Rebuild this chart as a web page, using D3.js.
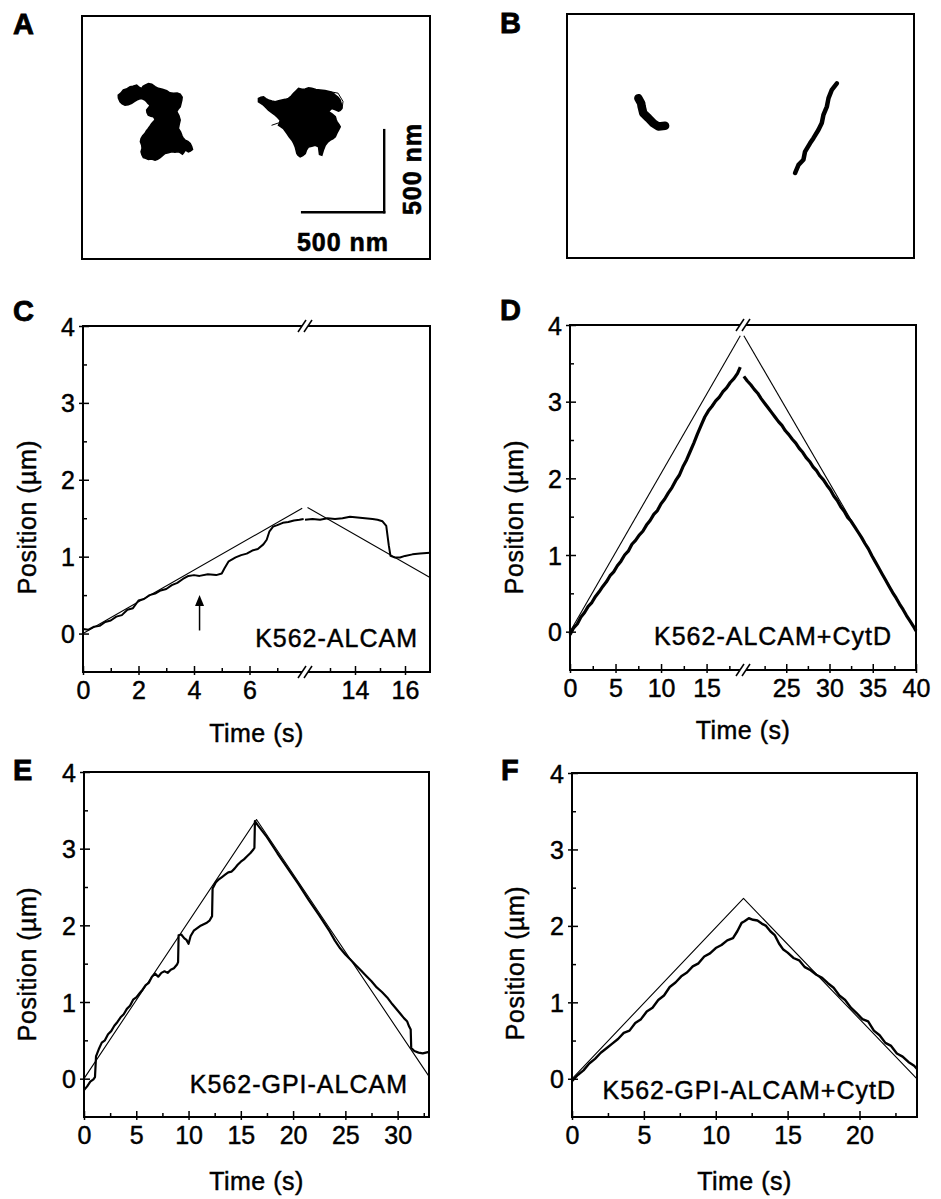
<!DOCTYPE html>
<html>
<head>
<meta charset="utf-8">
<script src="https://cdn.jsdelivr.net/npm/d3@7"></script>
<style>
body { margin: 0; background: #fff; }
svg text { font-family: "Liberation Sans", Arial, Helvetica, sans-serif; fill: #000; stroke: #000; stroke-width: 0.45px; }
</style>
</head>
<body>
<svg id="fig" width="941" height="1199"></svg>
<script>

// ---- panel A / B : bead trajectories, in nm (y grows downward) ----
const blobA1 = [[221,482],[236,470],[252,451],[270,445],[293,431],[310,428],[333,421],[350,436],[364,441],[372,428],[384,421],[405,412],[425,415],[445,430],[465,441],[490,446],[516,455],[535,468],[557,471],[580,470],[598,476],[610,494],[608,512],[603,533],[598,553],[585,568],[577,583],[590,606],[598,634],[592,660],[587,685],[600,705],[608,726],[615,742],[628,756],[645,764],[659,776],[668,795],[673,813],[660,822],[648,827],[636,820],[628,817],[620,832],[612,841],[598,832],[587,827],[566,830],[547,827],[526,833],[506,837],[490,850],[476,862],[460,872],[445,878],[424,871],[404,874],[388,866],[374,862],[365,845],[360,827],[366,806],[364,787],[356,766],[360,746],[370,730],[384,715],[392,700],[404,685],[416,668],[425,654],[437,642],[445,634],[441,622],[435,614],[420,610],[404,604],[396,588],[394,573],[406,558],[415,543],[402,532],[394,522],[380,510],[364,502],[348,505],[333,512],[318,522],[303,532],[282,540],[262,543],[245,535],[232,522],[222,500]];
const blobA2 = [[1075,502],[1090,495],[1106,492],[1120,503],[1136,512],[1157,518],[1177,522],[1198,516],[1218,512],[1238,508],[1258,502],[1275,488],[1289,471],[1305,455],[1319,441],[1340,447],[1360,445],[1380,438],[1400,441],[1425,448],[1451,451],[1480,454],[1512,461],[1530,470],[1543,482],[1560,496],[1573,512],[1580,538],[1583,563],[1573,575],[1563,579],[1540,570],[1522,563],[1510,574],[1502,583],[1525,598],[1543,614],[1548,630],[1553,644],[1565,660],[1573,675],[1565,690],[1557,705],[1550,720],[1543,736],[1528,748],[1512,756],[1495,770],[1482,787],[1470,818],[1461,848],[1447,843],[1444,820],[1441,797],[1421,787],[1400,793],[1380,797],[1368,815],[1360,837],[1345,850],[1329,858],[1316,848],[1309,837],[1304,817],[1299,797],[1290,776],[1279,756],[1262,735],[1248,715],[1238,700],[1227,685],[1210,674],[1197,665],[1204,650],[1207,634],[1192,618],[1177,604],[1156,588],[1136,573],[1120,557],[1106,543],[1090,532],[1075,522]];
const strandA2 = [[1218,644],[1157,665]];
const loopA2 = [[1512,461],[1560,470],[1590,520],[1585,560]];
const scaleBarX = [[1341,1195],[1841,1195]];
const scaleBarY = [[1841,1195],[1841,695]];
const trackB1 = [[435,514],[452,545],[455,565],[465,606],[496,636],[526,667],[557,687],[598,683]];
const trackB2 = [[1390,971],[1411,921],[1441,890],[1451,840],[1482,788],[1502,758],[1533,707],[1553,666],[1563,616],[1584,565],[1594,514],[1614,463],[1645,423]];

// ---- panel C : K562-ALCAM (time axis broken between 8 and 12 s) ----
const traceC_left = [[0,0.06],[0.2,0.05],[0.4,0.09],[0.6,0.10],[0.8,0.15],[1.0,0.17],[1.2,0.22],[1.4,0.24],[1.6,0.31],[1.8,0.33],[2.0,0.43],[2.2,0.45],[2.4,0.50],[2.6,0.52],[2.8,0.56],[3.0,0.58],[3.2,0.63],[3.4,0.66],[3.6,0.71],[3.8,0.75],[4.0,0.76],[4.2,0.75],[4.5,0.77],[4.8,0.76],[5.0,0.78],[5.1,0.85],[5.25,0.94],[5.5,0.99],[5.7,1.02],[5.9,1.04],[6.1,1.08],[6.3,1.10],[6.5,1.16],[6.62,1.22],[6.72,1.33],[6.85,1.39],[7.0,1.41],[7.2,1.44],[7.4,1.45],[7.6,1.47],[7.8,1.48],[7.95,1.49]];
const traceC_right = [[12.0,1.48],[12.3,1.49],[12.6,1.48],[12.9,1.50],[13.2,1.49],[13.5,1.50],[13.8,1.52],[14.1,1.51],[14.4,1.50],[14.7,1.49],[14.9,1.48],[15.1,1.46],[15.25,1.40],[15.35,1.15],[15.42,1.01],[15.6,0.99],[15.8,0.99],[16.0,1.01],[16.3,1.03],[16.6,1.04],[17.0,1.05]];
const fitC_left = [[0,0],[7.9,1.63]];
const fitC_right = [[12.1,1.64],[17,0.73]];
const arrowC = [[4.2,0.04],[4.2,0.5]];

// ---- panel D : K562-ALCAM+CytD (time axis broken between 19 and 20 s) ----
const traceD_left = [[0,-0.04],[0.4,0.05],[0.8,0.10],[1.2,0.19],[1.6,0.25],[2.0,0.33],[2.4,0.38],[2.8,0.46],[3.2,0.52],[3.6,0.59],[4.0,0.65],[4.4,0.73],[4.8,0.78],[5.2,0.86],[5.6,0.92],[6.0,1.00],[6.4,1.05],[6.8,1.14],[7.2,1.19],[7.6,1.26],[8.0,1.31],[8.4,1.39],[8.8,1.45],[9.2,1.53],[9.6,1.58],[10.0,1.67],[10.4,1.73],[10.8,1.81],[11.2,1.88],[11.6,1.97],[12.0,2.04],[12.4,2.15],[12.8,2.24],[13.2,2.35],[13.6,2.46],[14.0,2.58],[14.4,2.69],[14.8,2.80],[15.2,2.88],[15.6,2.94],[16.0,3.01],[16.4,3.06],[16.8,3.13],[17.2,3.18],[17.6,3.25],[18.0,3.30],[18.4,3.37],[18.7,3.45]];
const traceD_right = [[20.1,3.33],[20.5,3.27],[20.9,3.22],[21.3,3.16],[21.7,3.11],[22.1,3.04],[22.5,2.98],[22.9,2.92],[23.3,2.86],[23.7,2.80],[24.1,2.74],[24.5,2.69],[24.9,2.62],[25.3,2.57],[25.7,2.51],[26.1,2.46],[26.5,2.39],[26.9,2.34],[27.3,2.27],[27.7,2.22],[28.1,2.15],[28.5,2.10],[28.9,2.03],[29.3,1.98],[29.7,1.91],[30.1,1.85],[30.5,1.77],[30.9,1.71],[31.3,1.63],[31.7,1.57],[32.1,1.49],[32.5,1.44],[32.9,1.37],[33.3,1.30],[33.7,1.23],[34.1,1.15],[34.5,1.08],[34.9,0.99],[35.3,0.91],[35.7,0.83],[36.1,0.75],[36.5,0.67],[36.9,0.59],[37.3,0.51],[37.7,0.44],[38.1,0.36],[38.5,0.29],[38.9,0.21],[39.3,0.14],[39.7,0.07],[40,0.01]];
const fitD_left = [[0,0],[18.7,3.86]];
const fitD_right = [[20.1,3.86],[40,0]];

// ---- panel E : K562-GPI-ALCAM ----
const traceE = [[0,-0.15],[0.3,-0.10],[0.6,-0.04],[0.9,-0.01],[1.05,0.02],[1.15,0.29],[1.4,0.38],[1.7,0.47],[2.0,0.50],[2.3,0.58],[2.6,0.62],[2.9,0.69],[3.2,0.74],[3.5,0.80],[3.8,0.84],[4.1,0.91],[4.4,0.95],[4.7,1.03],[5.0,1.06],[5.3,1.11],[5.6,1.16],[5.9,1.22],[6.2,1.25],[6.5,1.33],[6.8,1.37],[7.1,1.33],[7.4,1.38],[7.7,1.40],[8.0,1.38],[8.3,1.42],[8.6,1.44],[8.9,1.49],[9.0,1.52],[9.05,1.87],[9.3,1.88],[9.6,1.83],[9.8,1.81],[10.0,1.76],[10.2,1.86],[10.5,1.93],[10.8,1.96],[11.1,1.99],[11.4,2.01],[11.7,2.03],[12.0,2.06],[12.25,2.12],[12.3,2.48],[12.6,2.56],[12.9,2.60],[13.2,2.63],[13.5,2.66],[13.8,2.69],[14.1,2.70],[14.4,2.74],[14.7,2.79],[15.0,2.83],[15.3,2.86],[15.6,2.90],[15.9,2.94],[16.2,2.99],[16.3,3.01],[16.35,3.36],[16.6,3.31],[17.5,3.15],[18.5,2.94],[19.5,2.74],[20.5,2.54],[21.5,2.33],[22.5,2.13],[23.5,1.92],[24.0,1.80],[24.5,1.70],[25.0,1.62],[25.5,1.55],[26.0,1.48],[26.5,1.41],[27.0,1.34],[27.5,1.27],[28.0,1.19],[28.5,1.13],[29.0,1.06],[29.5,0.97],[30.0,0.89],[30.3,0.84],[30.6,0.79],[30.9,0.75],[31.1,0.68],[31.25,0.64],[31.3,0.40],[31.6,0.36],[32.0,0.34],[32.4,0.33],[33.0,0.35]];
const fitE = [[0,0],[16.5,3.38],[33,0.03]];

// ---- panel F : K562-GPI-ALCAM+CytD ----
const traceF = [[0,-0.03],[0.4,0.05],[0.8,0.11],[1.2,0.20],[1.6,0.26],[2.0,0.34],[2.4,0.40],[2.8,0.46],[3.2,0.52],[3.6,0.60],[4.0,0.63],[4.4,0.73],[4.8,0.78],[5.2,0.88],[5.6,0.93],[6.0,1.03],[6.4,1.09],[6.8,1.20],[7.2,1.26],[7.6,1.34],[8.0,1.39],[8.4,1.47],[8.8,1.51],[9.2,1.60],[9.6,1.64],[10.0,1.71],[10.4,1.75],[10.8,1.81],[11.2,1.84],[11.5,1.93],[11.8,2.04],[12.0,2.06],[12.3,2.10],[12.6,2.08],[12.9,2.07],[13.2,2.03],[13.5,2.00],[13.8,1.93],[14.1,1.88],[14.4,1.77],[14.7,1.69],[15.0,1.65],[15.4,1.58],[15.8,1.55],[16.2,1.46],[16.6,1.42],[17.0,1.36],[17.4,1.32],[17.8,1.25],[18.2,1.19],[18.6,1.09],[19.0,1.03],[19.4,0.93],[19.8,0.86],[20.2,0.78],[20.6,0.75],[21.0,0.63],[21.4,0.57],[21.8,0.47],[22.2,0.43],[22.6,0.33],[23.0,0.29],[23.4,0.22],[23.8,0.17],[24,0.13]];
const fitF = [[0,0],[11.93,2.36],[24,0]];

// tick values
const yMajor = [0, 1, 2, 3, 4];
const yMinor = [0.5, 1.5, 2.5, 3.5];
const xMajorC = [0, 2, 4, 6, 14, 16], xMinorC = [1, 3, 5, 7, 13, 15];
const xMajorD = [0, 5, 10, 15, 25, 30, 35, 40], xMinorD = [2.5, 7.5, 12.5, 17.5, 22.5, 27.5, 32.5, 37.5];
const xMajorE = [0, 5, 10, 15, 20, 25, 30], xMinorE = [2.5, 7.5, 12.5, 17.5, 22.5, 27.5, 32.5];
const xMajorF = [0, 5, 10, 15, 20], xMinorF = [2.5, 7.5, 12.5, 17.5, 22.5];

const svg = d3.select("#fig");
const FONT = "'Liberation Sans', Arial, Helvetica, sans-serif";

function panelLetter(txt, x, y) {
  svg.append("text").attr("x", x).attr("y", y)
    .style("font-size", "29px").style("font-weight", "bold").style("stroke-width", "0.8px")
    .text(txt);
}

// trajectory panels (A, B)
function drawTrackPanel(opt) {
  const x = d3.scaleLinear().domain(opt.xDomain).range(opt.xRange);
  const y = d3.scaleLinear().domain(opt.yDomain).range(opt.yRange);
  const g = svg.append("g");
  g.append("rect")
    .attr("x", opt.xRange[0]).attr("y", opt.yRange[0])
    .attr("width", opt.xRange[1] - opt.xRange[0])
    .attr("height", opt.yRange[1] - opt.yRange[0])
    .attr("fill", "none").attr("stroke", "#000").attr("stroke-width", 2);

  const line = d3.line().x(d => x(d[0])).y(d => y(d[1]));
  const closed = d3.line().x(d => x(d[0])).y(d => y(d[1])).curve(d3.curveLinearClosed);

  (opt.blobs || []).forEach(b => {
    g.append("path").attr("d", closed(b))
      .attr("fill", "#000").attr("stroke", "#000")
      .attr("stroke-width", 1.6).attr("stroke-linejoin", "miter");
  });
  (opt.strands || []).forEach(s => {
    g.append("path").attr("d", line(s.pts))
      .attr("fill", "none").attr("stroke", "#000")
      .attr("stroke-width", s.w).attr("stroke-linecap", s.cap || "round").attr("stroke-linejoin", "round");
  });
  return {x, y, g};
}

panelLetter("A", 13, 34);
const pa = drawTrackPanel({
  xDomain: [0, 2120], xRange: [82, 430],
  yDomain: [0, 1480], yRange: [16, 259],
  blobs: [blobA1, blobA2],
  strands: [{pts: strandA2, w: 1}, {pts: loopA2, w: 1},
            {pts: scaleBarX, w: 2.4, cap: "square"}, {pts: scaleBarY, w: 2.4, cap: "square"}]
});
pa.g.append("text").attr("x", 343).attr("y", 251).attr("text-anchor", "middle")
  .style("font-size", "25px").style("font-weight", "bold").style("letter-spacing", "1px")
  .style("stroke-width", "0.6px")
  .text("500 nm");
pa.g.append("text").attr("transform", "translate(421,169) rotate(-90)").attr("text-anchor", "middle")
  .style("font-size", "25px").style("font-weight", "bold").style("letter-spacing", "1px")
  .style("stroke-width", "0.6px")
  .text("500 nm");

panelLetter("B", 500, 33);
drawTrackPanel({
  xDomain: [0, 2115], xRange: [567, 914],
  yDomain: [0, 1490], yRange: [14, 258],
  strands: [{pts: trackB1, w: 8.5}, {pts: trackB2, w: 4.5}]
});

// position vs time panels (C-F)
function drawTrace(opt) {
  const y = d3.scaleLinear().domain([-0.5, 4]).range([opt.bottom, opt.top]);
  const xs = opt.segments.map(s => d3.scaleLinear().domain(s.domain).range(s.range));
  const left = opt.segments[0].range[0];
  const right = opt.segments[opt.segments.length - 1].range[1];
  const g = svg.append("g");

  // frame
  g.append("rect").attr("x", left).attr("y", opt.top)
    .attr("width", right - left).attr("height", opt.bottom - opt.top)
    .attr("fill", "none").attr("stroke", "#000").attr("stroke-width", 2);

  const styleAxis = a => {
    a.select(".domain").remove();
    a.attr("font-size", 25).attr("font-family", FONT);
    a.selectAll(".tick line").attr("stroke-width", 1.5);
  };
  const intFmt = d3.format("d");

  // x axis, one per segment
  xs.forEach((x, i) => {
    const dom = opt.segments[i].domain;
    const inDom = v => v >= dom[0] && v <= dom[1];
    g.append("g").attr("transform", `translate(0,${opt.bottom})`)
      .call(d3.axisBottom(x).tickValues(opt.xMinor.filter(inDom)).tickSize(-4).tickFormat(""))
      .call(styleAxis);
    g.append("g").attr("transform", `translate(0,${opt.bottom})`)
      .call(d3.axisBottom(x).tickValues(opt.xMajor.filter(inDom)).tickSize(-6).tickPadding(9).tickFormat(intFmt))
      .call(styleAxis)
      .call(a => a.selectAll(".tick line").attr("y1", 3));
  });

  // y axis
  g.append("g").attr("transform", `translate(${left},0)`)
    .call(d3.axisLeft(y).tickValues(yMinor).tickSize(-4).tickFormat(""))
    .call(styleAxis);
  g.append("g").attr("transform", `translate(${left},0)`)
    .call(d3.axisLeft(y).tickValues(yMajor).tickSize(-6).tickPadding(8).tickFormat(intFmt))
    .call(styleAxis)
    .call(a => a.selectAll(".tick line").attr("x1", -4))
    .call(a => a.selectAll("text").attr("dy", "0.36em"));

  // axis break marks
  if (opt.breakX) {
    [opt.top, opt.bottom].forEach(yy => {
      g.append("rect").attr("x", opt.breakX - 3).attr("y", yy - 3)
        .attr("width", 6).attr("height", 6).attr("fill", "#fff");
      [-3, 3].forEach(dx => {
        g.append("line")
          .attr("x1", opt.breakX + dx - 4).attr("y1", yy + 6)
          .attr("x2", opt.breakX + dx + 4).attr("y2", yy - 6)
          .attr("stroke", "#000").attr("stroke-width", 1.5);
      });
    });
  }

  // fits (thin) and measured traces (thick)
  opt.series.forEach(s => {
    const x = xs[s.seg];
    const line = d3.line().x(d => x(d[0])).y(d => y(d[1]));
    g.append("path").datum(s.data).attr("d", line)
      .attr("fill", "none").attr("stroke", "#000")
      .attr("stroke-width", s.fit ? 1.1 : opt.lw)
      .attr("stroke-linejoin", "round");
  });

  // labels
  g.append("text").attr("x", opt.tagX).attr("y", opt.tagY).attr("text-anchor", "end")
    .style("font-size", "25px").style("letter-spacing", "1px").text(opt.tag);
  g.append("text").attr("x", (left + right) / 2).attr("y", opt.bottom + opt.xlabDy)
    .attr("text-anchor", "middle").style("font-size", "25px").style("letter-spacing", "0.5px")
    .text("Time (s)");
  g.append("text")
    .attr("transform", `translate(${opt.ylabX},${opt.ylabY}) rotate(-90)`)
    .attr("text-anchor", "middle").style("font-size", "25px").style("letter-spacing", "0.5px")
    .text("Position (µm)");

  return {xs, y, g};
}

panelLetter("C", 13, 321);
const pc = drawTrace({
  top: 326, bottom: 672,
  segments: [{domain: [0, 8], range: [83, 305]}, {domain: [12, 17], range: [305, 430]}],
  breakX: 305, xMajor: xMajorC, xMinor: xMinorC, lw: 2,
  series: [
    {seg: 0, data: fitC_left, fit: true}, {seg: 1, data: fitC_right, fit: true},
    {seg: 0, data: traceC_left}, {seg: 1, data: traceC_right}
  ],
  tag: "K562-ALCAM", tagX: 418, tagY: 647,
  xlabDy: 70, ylabX: 36, ylabY: 517
});
// arrow marking the stall
const ax = pc.xs[0](arrowC[0][0]);
pc.g.append("line")
  .attr("x1", ax).attr("y1", pc.y(arrowC[0][1]))
  .attr("x2", pc.xs[0](arrowC[1][0])).attr("y2", pc.y(arrowC[1][1]) + 9)
  .attr("stroke", "#000").attr("stroke-width", 1.5);
pc.g.append("path")
  .attr("d", `M${ax - 4.5},${pc.y(arrowC[1][1]) + 11} L${ax},${pc.y(arrowC[1][1])} L${ax + 4.5},${pc.y(arrowC[1][1]) + 11} Z`)
  .attr("fill", "#000");

panelLetter("D", 500, 320);
drawTrace({
  top: 325, bottom: 670,
  segments: [{domain: [0, 19], range: [570, 743]}, {domain: [20, 40], range: [743, 916]}],
  breakX: 743, xMajor: xMajorD, xMinor: xMinorD, lw: 3.2,
  series: [
    {seg: 0, data: fitD_left, fit: true}, {seg: 1, data: fitD_right, fit: true},
    {seg: 0, data: traceD_left}, {seg: 1, data: traceD_right}
  ],
  tag: "K562-ALCAM+CytD", tagX: 892, tagY: 645,
  xlabDy: 69, ylabX: 523, ylabY: 517
});

panelLetter("E", 13, 780);
drawTrace({
  top: 772, bottom: 1117,
  segments: [{domain: [0, 33], range: [84, 429]}],
  xMajor: xMajorE, xMinor: xMinorE, lw: 2.2,
  series: [{seg: 0, data: fitE, fit: true}, {seg: 0, data: traceE}],
  tag: "K562-GPI-ALCAM", tagX: 408, tagY: 1093,
  xlabDy: 73, ylabX: 36, ylabY: 964
});

panelLetter("F", 501, 780);
drawTrace({
  top: 773, bottom: 1117,
  segments: [{domain: [0, 24], range: [572, 917]}],
  xMajor: xMajorF, xMinor: xMinorF, lw: 2.4,
  series: [{seg: 0, data: fitF, fit: true}, {seg: 0, data: traceF}],
  tag: "K562-GPI-ALCAM+CytD", tagX: 896, tagY: 1099,
  xlabDy: 73, ylabX: 524, ylabY: 963
});

</script>
</body>
</html>
